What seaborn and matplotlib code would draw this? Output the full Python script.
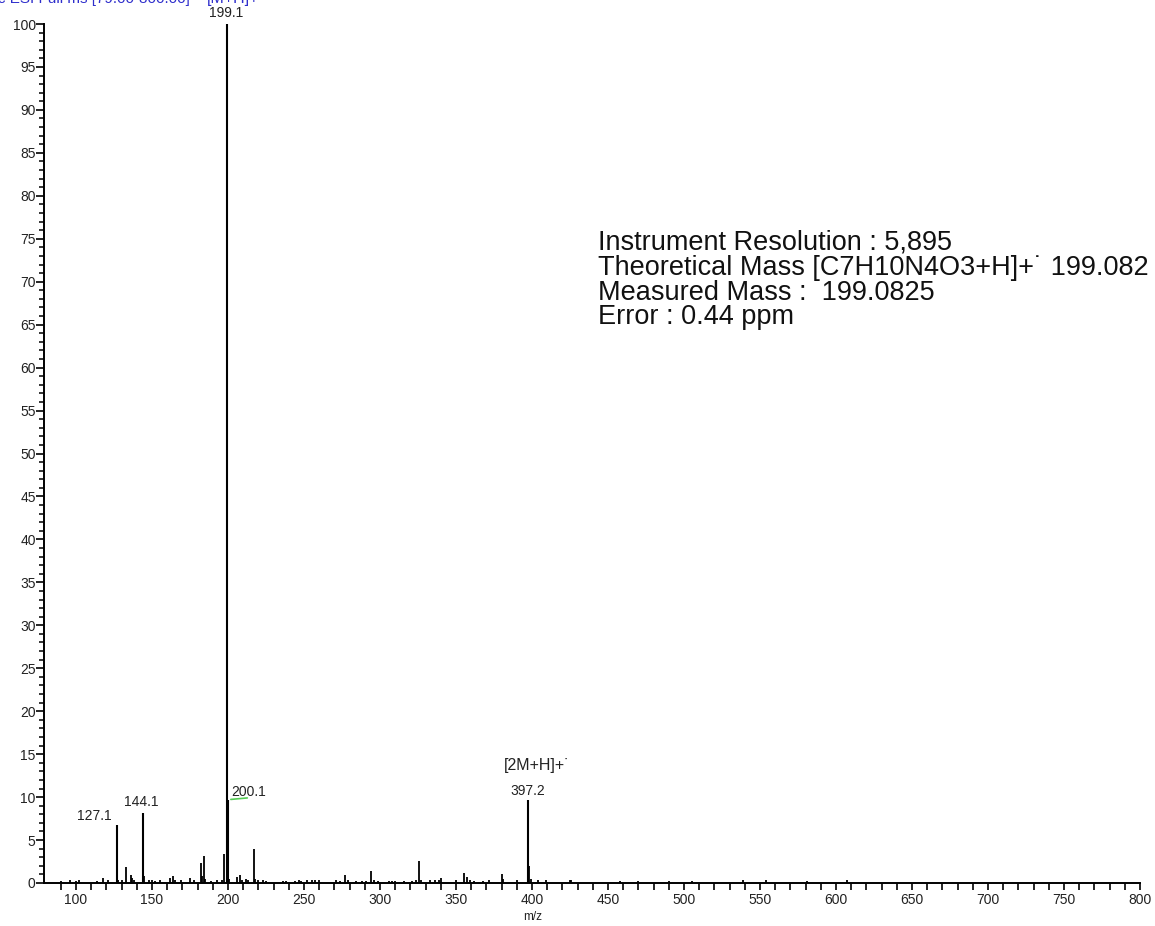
import numpy as np
import matplotlib
matplotlib.use("Agg")
import matplotlib.pyplot as plt
import seaborn as sns
from matplotlib.ticker import MultipleLocator, FixedLocator

sns.set_style("ticks")
plt.rcParams['font.family'] = ['Liberation Sans', 'DejaVu Sans']

# ---- data ----
labeled_mz = [127.1, 144.1, 199.1, 200.1, 397.2]
labeled_int = [6.8, 8.2, 100.0, 9.7, 9.7]
labeled_txt = ["127.1", "144.1", "199.1", "200.1", "397.2"]

other_mz = [90, 96, 100, 102, 114, 118, 121, 128, 130, 133, 136, 137, 138, 145, 148,
            150, 152, 155, 162, 164, 165, 169, 175, 178, 182, 183, 184, 185, 189, 193,
            196, 197.3, 201, 206, 208, 209, 212, 213, 217, 218, 220, 223, 225, 236, 238,
            244, 247, 248, 252, 255, 257, 260, 271, 274, 277, 279, 284, 288, 291, 294,
            296, 299, 306, 308, 310, 316, 321, 324, 326, 327, 333, 336, 339, 340, 350,
            355, 357, 359, 362, 368, 372, 380, 381, 390, 398.2, 399.2, 404, 409, 425,
            426, 458, 470, 490, 505, 539, 554, 581, 607]
other_int = [0.2, 0.3, 0.2, 0.3, 0.2, 0.6, 0.4, 0.4, 0.3, 1.9, 0.9, 0.6, 0.4, 0.8, 0.3,
             0.3, 0.2, 0.3, 0.6, 0.8, 0.3, 0.3, 0.6, 0.3, 2.3, 0.8, 3.1, 0.5, 0.2, 0.4,
             0.3, 3.4, 0.5, 0.7, 0.9, 0.4, 0.5, 0.3, 4.0, 0.5, 0.3, 0.3, 0.2, 0.2, 0.2,
             0.2, 0.4, 0.2, 0.4, 0.4, 0.3, 0.4, 0.4, 0.2, 0.9, 0.3, 0.2, 0.2, 0.2, 1.4,
             0.4, 0.2, 0.2, 0.2, 0.2, 0.2, 0.2, 0.3, 2.6, 0.4, 0.3, 0.3, 0.3, 0.6, 0.4,
             1.2, 0.7, 0.4, 0.2, 0.2, 0.3, 1.0, 0.5, 0.3, 2.0, 0.5, 0.3, 0.4, 0.4,
             0.3, 0.2, 0.2, 0.2, 0.2, 0.4, 0.3, 0.2, 0.3]

x_major = [100, 150, 200, 250, 300, 350, 400, 450, 500, 550, 600, 650, 700, 750, 800]

info_lines = ["Instrument Resolution : 5,895",
              "Theoretical Mass [C7H10N4O3+H]+\u02d9 199.082",
              "Measured Mass :  199.0825",
              "Error : 0.44 ppm"]

W, H = 1155, 926
fig = plt.figure(figsize=(W / 100, H / 100), dpi=100)
ax = fig.add_axes([44 / W, 1 - 883 / H, (1140 - 44) / W, (883 - 24) / H])

ax.vlines(other_mz, 0, other_int, color="black", linewidth=1.3)
ax.vlines(labeled_mz, 0, labeled_int, color="black", linewidth=1.5)

ax.set_xlim(79, 800)
ax.set_ylim(0, 100)
sns.despine(ax=ax)
for s in ["left", "bottom"]:
    ax.spines[s].set_linewidth(1.4)
    ax.spines[s].set_color("black")

ax.xaxis.set_major_locator(FixedLocator(x_major))
ax.xaxis.set_minor_locator(FixedLocator(np.arange(90, 801, 10)))
ax.yaxis.set_major_locator(MultipleLocator(5))
ax.yaxis.set_minor_locator(MultipleLocator(1))
ax.tick_params(axis="x", which="both", direction="out", length=5, width=1.2,
               color="black", labelsize=10, pad=2, labelcolor="#222222")
ax.tick_params(axis="y", which="major", direction="out", length=6, width=1.2,
               color="black", labelsize=10, pad=0, labelcolor="#222222")
ax.tick_params(axis="y", which="minor", direction="out", length=3.5, width=1.1,
               color="black")
ax.set_xlabel("m/z", fontsize=8.5, color="#222222")
ax.xaxis.set_label_coords((533 - 44) / (1140 - 44), -0.033)

# peak labels (pixel offsets from the peak tops)
offsets = {"127.1": (-23, 9, "center"), "144.1": (-2, 11, "center"),
           "199.1": (0, 11, "center"), "200.1": (3, 8, "left"),
           "397.2": (0, 9, "center")}
for mz, it, t in zip(labeled_mz, labeled_int, labeled_txt):
    dx, dy, ha = offsets[t]
    ax.annotate(t, xy=(mz, it), xytext=(dx, dy), textcoords="offset pixels",
                ha=ha, va="center", fontsize=10, color="#222222", annotation_clip=False)

ax.annotate("[2M+H]+\u02d9", xy=(397.2, 9.7), xytext=(9, 34), textcoords="offset pixels",
            ha="center", va="center", fontsize=11.5, color="#222222", annotation_clip=False)
ax.annotate("[M+H]+\u02d9", xy=(199.1, 100), xytext=(9, 25), textcoords="offset pixels",
            ha="center", va="center", fontsize=11.5, color="#2f2fcc", annotation_clip=False)
ax.annotate("", xy=(200.1, 9.7), xytext=(22, 2), textcoords="offset pixels",
            arrowprops=dict(arrowstyle="-", color="#55cc55", lw=1.2), annotation_clip=False)

fig.text(190 / W, 1 + 1 / H, "FTMS + c ESI Full ms [79.00-800.00]", ha="right",
         va="center", fontsize=11, color="#2f2fcc")

for i, line in enumerate(info_lines):
    fig.text(598 / W, 1 - (250 + 24.8 * i) / H, line, ha="left", va="baseline",
             fontsize=19.5, color="#111111")

fig.savefig("out.png", dpi=100)
